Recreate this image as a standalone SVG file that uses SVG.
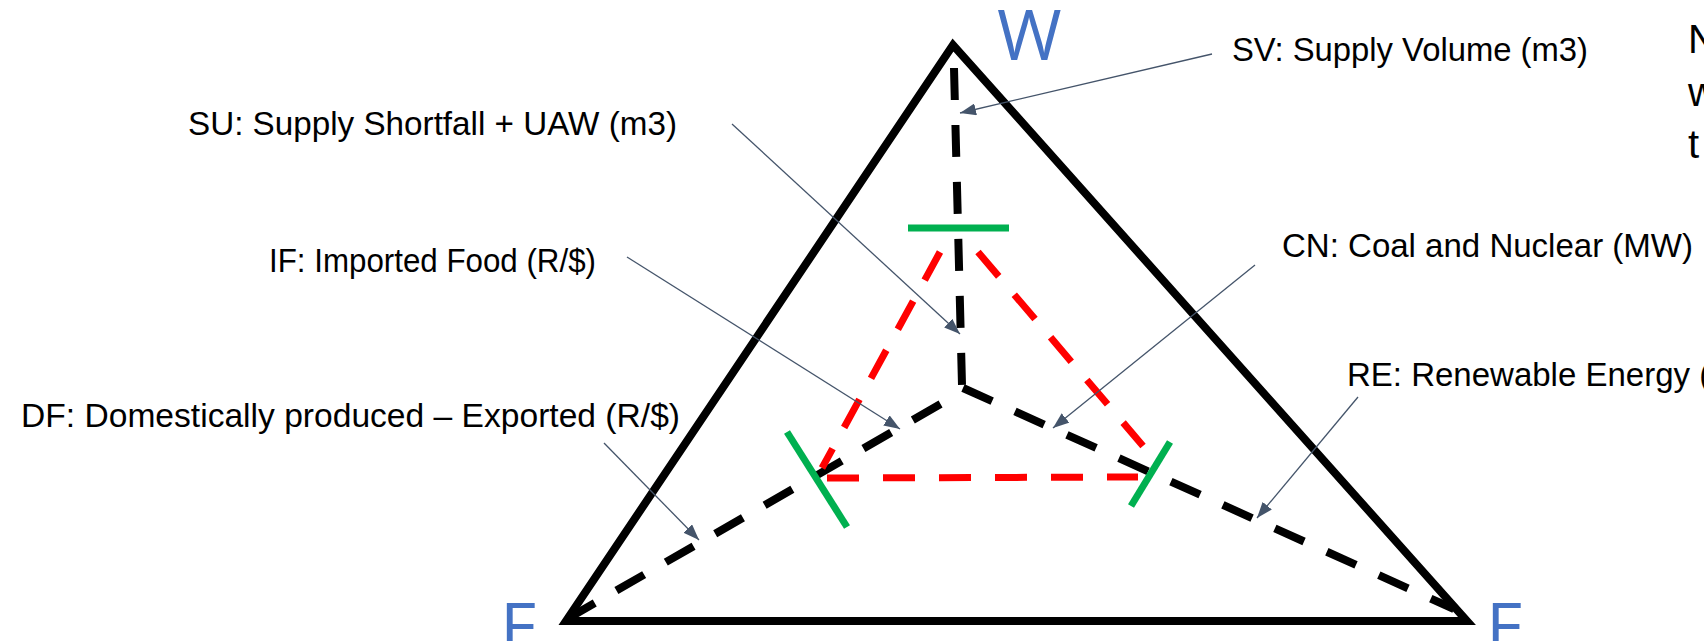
<svg xmlns="http://www.w3.org/2000/svg" width="1704" height="641" viewBox="0 0 1704 641">
<defs>
<marker id="ah" viewBox="0 0 16 12" refX="16" refY="6" markerWidth="16" markerHeight="12" markerUnits="userSpaceOnUse" orient="auto">
<path d="M0,0 L16,6 L0,12 z" fill="#44546A"/>
</marker>
</defs>
<style>
.lbl{font-family:"Liberation Sans",Arial,sans-serif;font-size:33px;fill:#000}
.big{font-family:"Liberation Sans",Arial,sans-serif;font-size:40px;fill:#000}
.vtx{font-family:"Open Sans","Liberation Sans",sans-serif;font-size:70px;fill:#4472C4}
.tri{fill:none;stroke:#000;stroke-width:8;stroke-linejoin:miter}
.ydash{fill:none;stroke:#000;stroke-width:8;stroke-dasharray:32 25}
.rdash{fill:none;stroke:#FF0000;stroke-width:7;stroke-dasharray:32 24}
.tick{fill:none;stroke:#00B050;stroke-width:7}
.conn{fill:none;stroke:#44546A;stroke-width:1.3;marker-end:url(#ah)}
</style>
<rect width="1704" height="641" fill="#fff"/>
<g id="triangle">
<polygon class="tri" points="953,45 566,621 1467,621"/>
</g>
<g id="ylines">
<path class="ydash" d="M954,68 L962,385"/>
<path class="ydash" d="M567,619 L958,394"/>
<path class="ydash" d="M963,388 L1454,609"/>
</g>
<g id="red-triangle">
<path class="rdash" d="M940,252 L822,468"/>
<path class="rdash" d="M978,252 L1143,446"/>
<path class="rdash" d="M827,478 L1138,477"/>
</g>
<g id="green-ticks">
<path class="tick" d="M908,228 L1009,228"/>
<path class="tick" d="M787,432 L847,527"/>
<path class="tick" d="M1170,442 L1131,506"/>
</g>
<g id="connectors">
<path class="conn" d="M1212,54 L960,113"/>
<path class="conn" d="M732,124 L960,334"/>
<path class="conn" d="M627,257 L900,429"/>
<path class="conn" d="M604,443 L699,540"/>
<path class="conn" d="M1255,265 L1053,428"/>
<path class="conn" d="M1358,397 L1257,518"/>
</g>
<g id="vertex-W"><text class="vtx" x="997" y="60">W</text></g>
<g id="vertex-E-left"><text class="vtx" x="500" y="653">E</text></g>
<g id="vertex-E-right"><text class="vtx" x="1486" y="653">E</text></g>
<g id="label-SV"><text class="lbl" x="1232" y="61" textLength="356" lengthAdjust="spacingAndGlyphs">SV: Supply Volume (m3)</text></g>
<g id="label-SU"><text class="lbl" x="188" y="135" textLength="489" lengthAdjust="spacingAndGlyphs">SU: Supply Shortfall + UAW (m3)</text></g>
<g id="label-IF"><text class="lbl" x="269" y="272" textLength="327" lengthAdjust="spacingAndGlyphs">IF: Imported Food (R/$)</text></g>
<g id="label-DF"><text class="lbl" x="21" y="427" textLength="659" lengthAdjust="spacingAndGlyphs">DF: Domestically produced – Exported (R/$)</text></g>
<g id="label-CN"><text class="lbl" x="1282" y="257" textLength="411" lengthAdjust="spacingAndGlyphs">CN: Coal and Nuclear (MW)</text></g>
<g id="label-RE"><text class="lbl" x="1347" y="386">RE: Renewable Energy (</text></g>
<g id="note">
<text class="big" x="1688" y="53">N</text>
<text class="big" x="1688" y="106">w</text>
<text class="big" x="1688" y="158">t</text>
</g>
</svg>
